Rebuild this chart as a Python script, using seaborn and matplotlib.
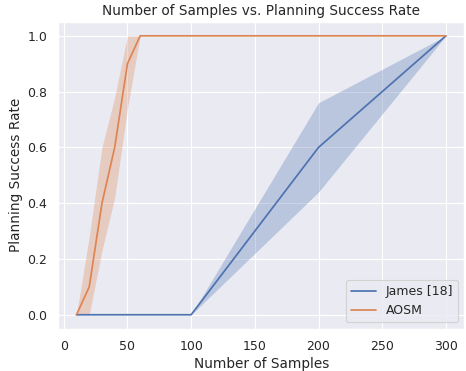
import matplotlib
matplotlib.use("Agg")
import matplotlib.pyplot as plt
import seaborn as sns
import pandas as pd

samples = [10, 20, 30, 40, 50, 60, 100, 200, 300]
james_mean = [0.0, 0.0, 0.0, 0.0, 0.0, 0.0, 0.0, 0.6, 1.0]
james_low = [0.0, 0.0, 0.0, 0.0, 0.0, 0.0, 0.0, 0.44, 1.0]
james_high = [0.0, 0.0, 0.0, 0.0, 0.0, 0.0, 0.0, 0.76, 1.0]
aosm_mean = [0.0, 0.1, 0.4, 0.6, 0.9, 1.0, 1.0, 1.0, 1.0]
aosm_low = [0.0, 0.0, 0.23, 0.42, 0.74, 1.0, 1.0, 1.0, 1.0]
aosm_high = [0.0, 0.28, 0.6, 0.78, 1.0, 1.0, 1.0, 1.0, 1.0]
methods = ["James [18]", "AOSM"]

sns.set_theme(style="darkgrid")

rows = []
for m, mean, lo, hi in [(methods[0], james_mean, james_low, james_high),
                        (methods[1], aosm_mean, aosm_low, aosm_high)]:
    for x, y, l, h in zip(samples, mean, lo, hi):
        rows.append({"Number of Samples": x, "Planning Success Rate": y,
                     "low": l, "high": h, "Method": m})
df = pd.DataFrame(rows)

DPI = 82
fig = plt.figure(figsize=(466 / DPI, 371 / DPI), dpi=DPI)
ax = fig.add_axes([0.1245, 0.114, 0.872, 0.827])
palette = sns.color_palette("deep")
colors = {methods[0]: palette[0], methods[1]: palette[1]}

sns.lineplot(data=df, x="Number of Samples", y="Planning Success Rate",
             hue="Method", hue_order=methods, palette=colors, errorbar=None, ax=ax)
for m in methods:
    sub = df[df["Method"] == m]
    ax.fill_between(sub["Number of Samples"], sub["low"], sub["high"],
                    color=colors[m], alpha=0.3, linewidth=0)

ax.set_title("Number of Samples vs. Planning Success Rate", fontsize=12)
ax.set_xlabel("Number of Samples", fontsize=12)
ax.set_ylabel("Planning Success Rate", fontsize=12)
ax.set_xticks([0, 50, 100, 150, 200, 250, 300])
ax.set_yticks([0.0, 0.2, 0.4, 0.6, 0.8, 1.0])
ax.tick_params(labelsize=11)
ax.legend(loc="lower right", fontsize=11)

fig.savefig("out.png", dpi=DPI)
